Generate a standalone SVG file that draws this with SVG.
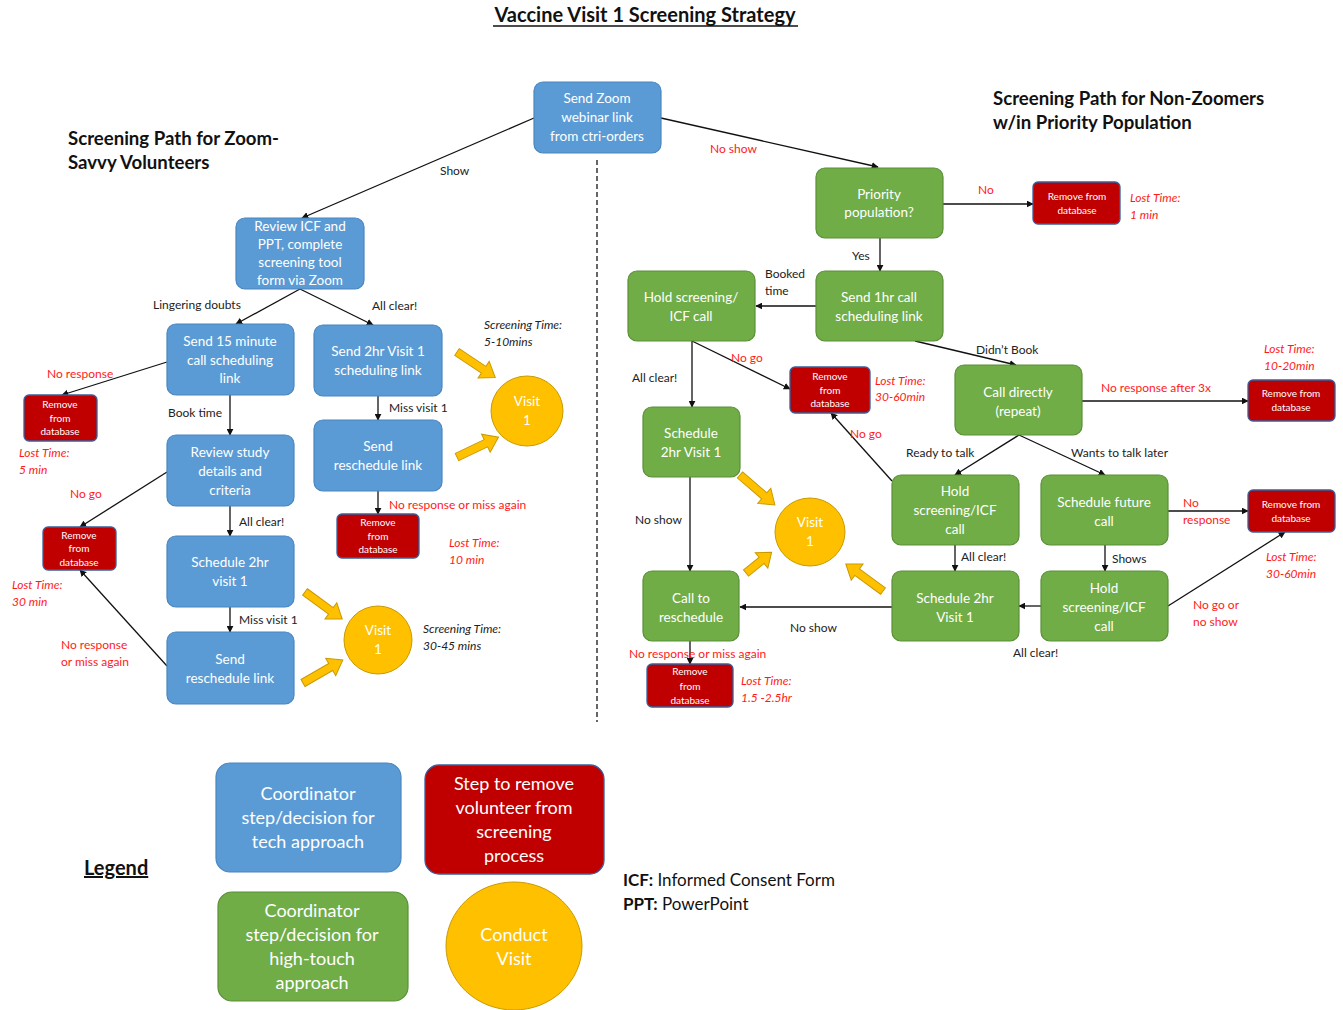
<svg xmlns="http://www.w3.org/2000/svg" width="1343" height="1010" viewBox="0 0 1343 1010">
<defs>
<style>
.b{fill:#5b9bd5;stroke:#4a86c0;stroke-width:1.2}
.g{fill:#70ad47;stroke:#5a8f38;stroke-width:1.2}
.r{fill:#c00000;stroke:#3a5f9a;stroke-width:1.3}
.y{fill:#ffc000;stroke:#c99a00;stroke-width:1}
text{font-family:Lato,"Open Sans","Liberation Sans",sans-serif}
.nt{font-size:13.5px;fill:#fff;text-anchor:middle}
.st{font-size:10px;fill:#fff;text-anchor:middle}
.lb{font-size:12px;fill:#222}
.rl{font-size:12px;fill:#ff1a1a}
.lt{font-size:12px;fill:#ff1a1a;font-style:italic}
.sc{font-size:12px;fill:#222;font-style:italic}
.hd{font-size:18.6px;font-weight:bold;fill:#111}
.lg{font-size:18px;fill:#fff;text-anchor:middle}
.cn{stroke:#111;stroke-width:1.3;fill:none;marker-end:url(#ah)}
</style>
<marker id="ah" viewBox="0 0 10 10" refX="9" refY="5" markerWidth="7" markerHeight="7" orient="auto" markerUnits="userSpaceOnUse">
<path d="M0,0 L10,5 L0,10 Z" fill="#111"/>
</marker>
<path id="ya" d="M0,-4 L32,-4 L32,-10 L46,0 L32,10 L32,4 L0,4 Z"/>
<path id="yas" d="M0,-4 L20,-4 L20,-10 L33,0 L20,10 L20,4 L0,4 Z"/>
</defs>
<rect width="1343" height="1010" fill="#fff"/>

<g id="titles">
<text x="645" y="22" font-size="20" font-weight="bold" text-anchor="middle" fill="#111">Vaccine Visit 1 Screening Strategy</text>
<line x1="493" y1="26" x2="798" y2="26" stroke="#111" stroke-width="1.4"/>
<text x="68" y="145" class="hd">Screening Path for Zoom-</text>
<text x="68" y="169" class="hd">Savvy Volunteers</text>
<text x="993" y="105" class="hd">Screening Path for Non-Zoomers</text>
<text x="993" y="129" class="hd">w/in Priority Population</text>
</g>

<line id="divider" x1="597" y1="160" x2="597" y2="722" stroke="#333" stroke-width="1.5" stroke-dasharray="5,3"/>

<g id="connectors">
<path class="cn" d="M534,118 L302,218"/>
<path class="cn" d="M300,289 L236,324"/>
<path class="cn" d="M300,289 L373,325"/>
<path class="cn" d="M167,362 L62,395"/>
<path class="cn" d="M230,395 L230,435"/>
<path class="cn" d="M167,472 L80,527"/>
<path class="cn" d="M230,506 L230,536"/>
<path class="cn" d="M230,607 L230,632"/>
<path class="cn" d="M167,666 L80,570"/>
<path class="cn" d="M378,396 L378,420"/>
<path class="cn" d="M378,491 L378,514"/>
<path class="cn" d="M661,118 L878,167"/>
<path class="cn" d="M943,204 L1033,204"/>
<path class="cn" d="M880,238 L880,271"/>
<path class="cn" d="M816,306 L756,306"/>
<path class="cn" d="M915,341 L1016,365"/>
<path class="cn" d="M1082,401 L1248,401"/>
<path class="cn" d="M692,341 L692,407"/>
<path class="cn" d="M692,341 L790,389"/>
<path class="cn" d="M892,481 L831,413"/>
<path class="cn" d="M1019,435 L955,475"/>
<path class="cn" d="M1019,435 L1105,475"/>
<path class="cn" d="M1168,511 L1248,511"/>
<path class="cn" d="M1105,545 L1105,571"/>
<path class="cn" d="M1168,606 L1285,532"/>
<path class="cn" d="M1041,606 L1019,606"/>
<path class="cn" d="M955,545 L955,571"/>
<path class="cn" d="M892,607 L740,607"/>
<path class="cn" d="M690,477 L690,571"/>
<path class="cn" d="M690,641 L690,664"/>
</g>

<g id="yellow-arrows" class="y">
<use href="#ya" transform="translate(457,352) rotate(33.7)"/>
<use href="#ya" transform="translate(457,457) rotate(-25.5)"/>
<use href="#ya" transform="translate(305,592) rotate(36)"/>
<use href="#ya" transform="translate(303,683) rotate(-30)"/>
<use href="#ya" transform="translate(740,475) rotate(40.7)"/>
<use href="#yas" transform="translate(746,573) rotate(-39)"/>
<use href="#ya" transform="translate(883,591) rotate(216)"/>
</g>

<g id="labels">
<text x="440" y="175" class="lb">Show</text>
<text x="153" y="309" class="lb">Lingering doubts</text>
<text x="372" y="310" class="lb">All clear!</text>
<text x="47" y="378" class="rl">No response</text>
<text x="168" y="417" class="lb">Book time</text>
<text x="389" y="412" class="lb">Miss visit 1</text>
<text x="70" y="498" class="rl">No go</text>
<text x="239" y="526" class="lb">All clear!</text>
<text x="239" y="624" class="lb">Miss visit 1</text>
<text x="389" y="509" class="rl">No response or miss again</text>
<text x="61" y="649" class="rl">No response</text>
<text x="61" y="666" class="rl">or miss again</text>
<text x="19" y="457" class="lt">Lost Time:</text>
<text x="19" y="474" class="lt">5 min</text>
<text x="12" y="589" class="lt">Lost Time:</text>
<text x="12" y="606" class="lt">30 min</text>
<text x="449" y="547" class="lt">Lost Time:</text>
<text x="449" y="564" class="lt">10 min</text>
<text x="484" y="329" class="sc">Screening Time:</text>
<text x="484" y="346" class="sc">5-10mins</text>
<text x="423" y="633" class="sc">Screening Time:</text>
<text x="423" y="650" class="sc">30-45 mins</text>

<text x="710" y="153" class="rl">No show</text>
<text x="978" y="194" class="rl">No</text>
<text x="1130" y="202" class="lt">Lost Time:</text>
<text x="1130" y="219" class="lt">1 min</text>
<text x="852" y="260" class="lb">Yes</text>
<text x="765" y="278" class="lb">Booked</text>
<text x="765" y="295" class="lb">time</text>
<text x="976" y="354" class="lb">Didn’t Book</text>
<text x="1101" y="392" class="rl">No response after 3x</text>
<text x="1264" y="353" class="lt">Lost Time:</text>
<text x="1264" y="370" class="lt">10-20min</text>
<text x="632" y="382" class="lb">All clear!</text>
<text x="731" y="362" class="rl">No go</text>
<text x="875" y="385" class="lt">Lost Time:</text>
<text x="875" y="401" class="lt">30-60min</text>
<text x="850" y="438" class="rl">No go</text>
<text x="906" y="457" class="lb">Ready to talk</text>
<text x="1071" y="457" class="lb">Wants to talk later</text>
<text x="1183" y="507" class="rl">No</text>
<text x="1183" y="524" class="rl">response</text>
<text x="1266" y="561" class="lt">Lost Time:</text>
<text x="1266" y="578" class="lt">30-60min</text>
<text x="1112" y="563" class="lb">Shows</text>
<text x="961" y="561" class="lb">All clear!</text>
<text x="1193" y="609" class="rl">No go or</text>
<text x="1193" y="626" class="rl">no show</text>
<text x="1013" y="657" class="lb">All clear!</text>
<text x="790" y="632" class="lb">No show</text>
<text x="635" y="524" class="lb">No show</text>
<text x="629" y="658" class="rl">No response or miss again</text>
<text x="741" y="685" class="lt">Lost Time:</text>
<text x="741" y="702" class="lt">1.5 -2.5hr</text>
</g>

<g id="n-send-zoom"><rect class="b" x="534" y="82" width="127" height="71" rx="9"/><text class="nt" x="597" y="103">Send Zoom</text><text class="nt" x="597" y="122">webinar link</text><text class="nt" x="597" y="141">from ctri-orders</text></g>
<g id="n-review-icf"><rect class="b" x="236" y="218" width="128" height="71" rx="9"/><text class="nt" x="300" y="231">Review ICF and</text><text class="nt" x="300" y="249">PPT, complete</text><text class="nt" x="300" y="267">screening tool</text><text class="nt" x="300" y="285">form via Zoom</text></g>
<g id="n-send-15"><rect class="b" x="167" y="324" width="127" height="71" rx="9"/><text class="nt" x="230" y="346">Send 15 minute</text><text class="nt" x="230" y="365">call scheduling</text><text class="nt" x="230" y="383">link</text></g>
<g id="n-send-2hr"><rect class="b" x="314" y="325" width="128" height="71" rx="9"/><text class="nt" x="378" y="356">Send 2hr Visit 1</text><text class="nt" x="378" y="375">scheduling link</text></g>
<g id="n-resched-r"><rect class="b" x="314" y="420" width="128" height="71" rx="9"/><text class="nt" x="378" y="451">Send</text><text class="nt" x="378" y="470">reschedule link</text></g>
<g id="n-remove-b3"><rect class="r" x="337" y="514" width="82" height="44" rx="5"/><text class="st" x="378" y="526">Remove</text><text class="st" x="378" y="540">from</text><text class="st" x="378" y="553">database</text></g>
<g id="n-review-study"><rect class="b" x="167" y="435" width="127" height="71" rx="9"/><text class="nt" x="230" y="457">Review study</text><text class="nt" x="230" y="476">details and</text><text class="nt" x="230" y="495">criteria</text></g>
<g id="n-schedule-l"><rect class="b" x="167" y="536" width="127" height="71" rx="9"/><text class="nt" x="230" y="567">Schedule 2hr</text><text class="nt" x="230" y="586">visit 1</text></g>
<g id="n-resched-l"><rect class="b" x="167" y="632" width="127" height="72" rx="9"/><text class="nt" x="230" y="664">Send</text><text class="nt" x="230" y="683">reschedule link</text></g>
<g id="n-remove-b1"><rect class="r" x="24" y="395" width="73" height="46" rx="5"/><text class="st" x="60" y="408">Remove</text><text class="st" x="60" y="422">from</text><text class="st" x="60" y="435">database</text></g>
<g id="n-remove-b2"><rect class="r" x="43" y="527" width="73" height="43" rx="5"/><text class="st" x="79" y="539">Remove</text><text class="st" x="79" y="552">from</text><text class="st" x="79" y="566">database</text></g>
<g id="n-visit-b1"><ellipse class="y" cx="527" cy="411" rx="36" ry="35"/><text class="nt" x="527" y="406">Visit</text><text class="nt" x="527" y="425">1</text></g>
<g id="n-visit-b2"><ellipse class="y" cx="378" cy="640" rx="34" ry="34"/><text class="nt" x="378" y="635">Visit</text><text class="nt" x="378" y="654">1</text></g>

<g id="n-priority"><rect class="g" x="816" y="168" width="127" height="70" rx="9"/><text class="nt" x="879" y="199">Priority</text><text class="nt" x="879" y="217">population?</text></g>
<g id="n-remove-g1"><rect class="r" x="1033" y="182" width="87" height="42" rx="5"/><text class="st" x="1077" y="200">Remove from</text><text class="st" x="1077" y="214">database</text></g>
<g id="n-send-1hr"><rect class="g" x="816" y="271" width="127" height="70" rx="9"/><text class="nt" x="879" y="302">Send 1hr call</text><text class="nt" x="879" y="321">scheduling link</text></g>
<g id="n-hold-1"><rect class="g" x="628" y="271" width="127" height="70" rx="9"/><text class="nt" x="691" y="302">Hold screening/</text><text class="nt" x="691" y="321">ICF call</text></g>
<g id="n-call-directly"><rect class="g" x="955" y="365" width="127" height="70" rx="9"/><text class="nt" x="1018" y="397">Call directly</text><text class="nt" x="1018" y="416">(repeat)</text></g>
<g id="n-remove-g2"><rect class="r" x="1248" y="380" width="87" height="41" rx="5"/><text class="st" x="1291" y="397">Remove from</text><text class="st" x="1291" y="411">database</text></g>
<g id="n-remove-g3"><rect class="r" x="790" y="367" width="80" height="46" rx="5"/><text class="st" x="830" y="380">Remove</text><text class="st" x="830" y="394">from</text><text class="st" x="830" y="407">database</text></g>
<g id="n-schedule-g1"><rect class="g" x="643" y="407" width="97" height="70" rx="9"/><text class="nt" x="691" y="438">Schedule</text><text class="nt" x="691" y="457">2hr Visit 1</text></g>
<g id="n-hold-2"><rect class="g" x="892" y="475" width="127" height="70" rx="9"/><text class="nt" x="955" y="496">Hold</text><text class="nt" x="955" y="515">screening/ICF</text><text class="nt" x="955" y="534">call</text></g>
<g id="n-future"><rect class="g" x="1041" y="475" width="127" height="70" rx="9"/><text class="nt" x="1104" y="507">Schedule future</text><text class="nt" x="1104" y="526">call</text></g>
<g id="n-remove-g4"><rect class="r" x="1248" y="490" width="87" height="42" rx="5"/><text class="st" x="1291" y="508">Remove from</text><text class="st" x="1291" y="522">database</text></g>
<g id="n-hold-3"><rect class="g" x="1041" y="571" width="127" height="70" rx="9"/><text class="nt" x="1104" y="593">Hold</text><text class="nt" x="1104" y="612">screening/ICF</text><text class="nt" x="1104" y="631">call</text></g>
<g id="n-schedule-g2"><rect class="g" x="892" y="571" width="127" height="70" rx="9"/><text class="nt" x="955" y="603">Schedule 2hr</text><text class="nt" x="955" y="622">Visit 1</text></g>
<g id="n-call-resched"><rect class="g" x="643" y="571" width="96" height="70" rx="9"/><text class="nt" x="691" y="603">Call to</text><text class="nt" x="691" y="622">reschedule</text></g>
<g id="n-remove-g5"><rect class="r" x="647" y="664" width="86" height="43" rx="5"/><text class="st" x="690" y="675">Remove</text><text class="st" x="690" y="690">from</text><text class="st" x="690" y="704">database</text></g>
<g id="n-visit-g"><ellipse class="y" cx="810" cy="532" rx="35" ry="34"/><text class="nt" x="810" y="527">Visit</text><text class="nt" x="810" y="546">1</text></g>

<g id="legend">
<text x="84" y="875" font-size="20" font-weight="bold" fill="#111" text-decoration="underline">Legend</text>
<g id="lg-blue"><rect class="b" x="216" y="763" width="185" height="109" rx="14"/><text class="lg" x="308" y="800">Coordinator</text><text class="lg" x="308" y="824">step/decision for</text><text class="lg" x="308" y="848">tech approach</text></g>
<g id="lg-red"><rect class="r" x="425" y="765" width="179" height="109" rx="14"/><text class="lg" x="514" y="790">Step to remove</text><text class="lg" x="514" y="814">volunteer from</text><text class="lg" x="514" y="838">screening</text><text class="lg" x="514" y="862">process</text></g>
<g id="lg-green"><rect class="g" x="218" y="892" width="190" height="109" rx="14"/><text class="lg" x="312" y="917">Coordinator</text><text class="lg" x="312" y="941">step/decision for</text><text class="lg" x="312" y="965">high-touch</text><text class="lg" x="312" y="989">approach</text></g>
<g id="lg-yellow"><ellipse class="y" cx="514" cy="946" rx="68" ry="64"/><text class="lg" x="514" y="941">Conduct</text><text class="lg" x="514" y="965">Visit</text></g>
<text x="623" y="886" font-size="17" fill="#111"><tspan font-weight="bold">ICF:</tspan> Informed Consent Form</text>
<text x="623" y="910" font-size="17" fill="#111"><tspan font-weight="bold">PPT:</tspan> PowerPoint</text>
</g>
</svg>
